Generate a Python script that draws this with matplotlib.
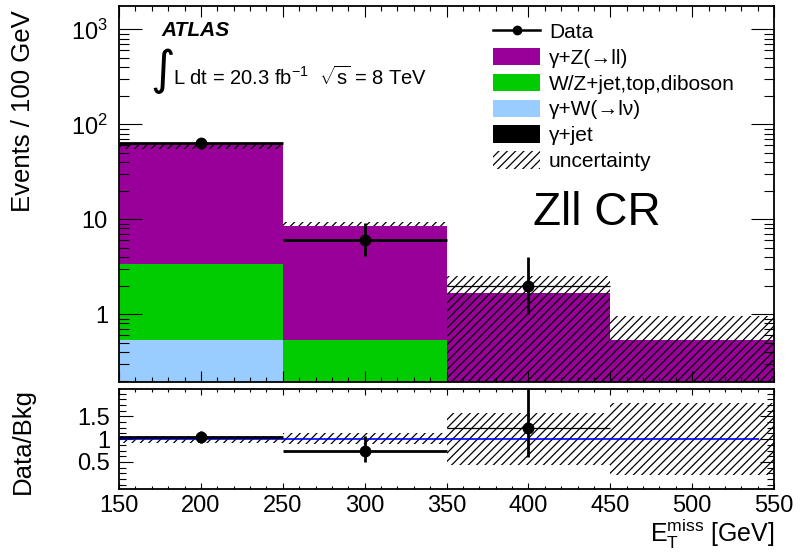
import matplotlib
matplotlib.use("Agg")
import matplotlib.pyplot as plt
import numpy as np
from matplotlib.lines import Line2D
from matplotlib.patches import Patch
from matplotlib.ticker import FixedLocator, FuncFormatter, LogLocator, MultipleLocator, NullFormatter

plt.rcParams["font.family"] = ["Liberation Sans", "DejaVu Sans"]
plt.rcParams["mathtext.fontset"] = "custom"
plt.rcParams["mathtext.rm"] = "Liberation Sans"
plt.rcParams["mathtext.it"] = "Liberation Sans:italic"
plt.rcParams["mathtext.bf"] = "Liberation Sans:bold"
plt.rcParams["mathtext.sf"] = "Liberation Sans"
plt.rcParams["hatch.linewidth"] = 0.9

# --- data (E_T^miss bins, GeV) ---
edges = [150, 250, 350, 450, 550]
gamma_jet = [0.05, 0.0, 0.0, 0.0]
gamma_w = [0.49, 0.10, 0.05, 0.0]
wz_top_diboson = [2.86, 0.44, 0.10, 0.05]
gamma_z = [60.1, 8.03, 1.51, 0.49]

band_lo = [55.0, 8.57, 0.10, 0.10]
band_hi = [64.0, 9.37, 2.53, 0.96]

data_x = [200, 300, 400]
data_y = [63, 6, 2]
data_err_lo = [7.9, 1.9, 1.0]
data_err_hi = [7.9, 3.1, 2.0]

ratio_y = [1.04, 0.73, 1.24]
ratio_err_lo = [0.13, 0.24, 0.64]
ratio_err_hi = [0.13, 0.33, 1.30]
ratio_band_lo = [0.92, 0.90, 0.435, 0.215]
ratio_band_hi = [1.06, 1.13, 1.57, 1.79]

samples = [
    ("γ+jet", gamma_jet, "#000000"),
    ("γ+W(→lν)", gamma_w, "#99ccff"),
    ("W/Z+jet,top,diboson", wz_top_diboson, "#00cc00"),
    ("γ+Z(→ll)", gamma_z, "#990099"),
]

W, H = 800, 557
fig = plt.figure(figsize=(W / 100, H / 100), dpi=100)
ax = fig.add_axes([119 / W, 1 - 381.7 / H, 655 / W, 375.7 / H])
rax = fig.add_axes([119 / W, 1 - 489.3 / H, 655 / W, 100.3 / H], sharex=ax)

# stacked histogram
bottom = np.zeros(len(edges) - 1)
for label, vals, color in samples:
    top = bottom + np.array(vals)
    ax.stairs(top, edges, baseline=bottom, fill=True, color=color, linewidth=0)
    bottom = top

ax.stairs(band_hi, edges, baseline=band_lo, fill=True, facecolor="none",
          edgecolor="black", hatch="////", linewidth=0)

# data
bar_widths = [2.0, 2.0, 0.9]
ax.hlines(data_y, edges[:3], edges[1:4], colors="black", linewidths=bar_widths, zorder=4)
ax.errorbar(data_x, data_y, yerr=[data_err_lo, data_err_hi], fmt="o", color="black",
            ms=7.5, elinewidth=2.0, capsize=0, zorder=5)

ax.set_yscale("log")
ax.set_xlim(150, 550)
ax.set_ylim(0.195, 1760)
ax.yaxis.set_major_locator(FixedLocator([1, 10, 100, 1000]))
labels = {1: "1", 10: "10", 100: r"$10^{2}$", 1000: r"$10^{3}$"}
ax.yaxis.set_major_formatter(FuncFormatter(lambda v, p: labels.get(int(round(v)), "")))
ax.yaxis.set_minor_locator(LogLocator(base=10, subs=np.arange(2, 10)))
ax.yaxis.set_minor_formatter(NullFormatter())
ax.xaxis.set_major_locator(MultipleLocator(50))
ax.xaxis.set_minor_locator(MultipleLocator(10))
ax.tick_params(axis="x", labelbottom=False)
ax.tick_params(which="both", direction="in", top=True, right=True, width=0.8)
ax.tick_params(axis="y", which="major", length=16.3, labelsize=17, pad=8)
ax.tick_params(axis="y", which="minor", length=7.4)
ax.tick_params(axis="x", which="major", length=7.7)
ax.tick_params(axis="x", which="minor", length=3.6)
for s in ax.spines.values():
    s.set_linewidth(1.3)

# legend
handles = [
    Line2D([], [], color="black", marker="o", ms=6, lw=1.8),
    Patch(facecolor="#990099", edgecolor="none"),
    Patch(facecolor="#00cc00", edgecolor="none"),
    Patch(facecolor="#99ccff", edgecolor="none"),
    Patch(facecolor="#000000", edgecolor="none"),
    Patch(facecolor="none", edgecolor="black", hatch="////", linewidth=0),
]
names = ["Data", "γ+Z(→ll)", "W/Z+jet,top,diboson", "γ+W(→lν)", "γ+jet", "uncertainty"]
ax.legend(handles, names, loc="upper left", bbox_to_anchor=(493 / W, 1 - 22 / H),
          bbox_transform=fig.transFigure, frameon=False, fontsize=15, borderpad=0,
          borderaxespad=0, handlelength=2.26, handleheight=0.9, handletextpad=0.43,
          labelspacing=0.29)

# ratio panel
rax.stairs(ratio_band_hi, edges, baseline=ratio_band_lo, fill=True, facecolor="none",
           edgecolor="black", hatch="////", linewidth=0)
rax.hlines(1.0, 150, 541, colors="#0000ff", linewidth=1.2)
rax.hlines(ratio_y, edges[:3], edges[1:4], colors="black", linewidths=bar_widths, zorder=4)
rax.errorbar(data_x, ratio_y, yerr=[ratio_err_lo, ratio_err_hi], fmt="o", color="black",
             ms=7.5, elinewidth=2.0, capsize=0, zorder=5)
rax.set_ylim(-0.1, 2.1)
rax.yaxis.set_major_locator(FixedLocator([0.5, 1.0, 1.5]))
rax.yaxis.set_major_formatter(FuncFormatter(lambda v, p: f"{v:g}"))
rax.yaxis.set_minor_locator(MultipleLocator(0.125))
rax.tick_params(which="both", direction="in", top=True, right=True, width=0.8)
rax.tick_params(axis="y", which="major", length=10, labelsize=17, pad=6.5)
rax.tick_params(axis="y", which="minor", length=4.8)
rax.tick_params(axis="x", which="major", length=4.3, labelsize=17, pad=4)
rax.tick_params(axis="x", which="minor", length=2.2)
for s in rax.spines.values():
    s.set_linewidth(1.3)

# texts
fig.text(161 / W, 1 - 36 / H, "ATLAS", fontsize=15, fontweight="bold", fontstyle="italic",
         va="baseline")
fig.text(150 / W, 1 - 71 / H, "∫", fontsize=34, va="center", ha="left",
         family=["DejaVu Sans"])
fig.text(173 / W, 1 - 85 / H, r"L dt = 20.3 fb$^{\mathrm{-1}}$  $\sqrt{\mathrm{s}}$ = 8 TeV",
         fontsize=14.5, va="baseline")
fig.text(533 / W, 1 - 225 / H, "Zll CR", fontsize=33, va="baseline")
fig.text(23 / W, 1 - 111 / H, "Events / 100 GeV", fontsize=18.5, rotation=90,
         ha="center", va="center")
fig.text(23 / W, 1 - 441 / H, "Data/Bkg", fontsize=18.5, rotation=90, ha="center", va="center")
fig.text(775 / W, 1 - 542 / H, r"E$_{\mathrm{T}}^{\mathrm{miss}}$ [GeV]", fontsize=18,
         ha="right", va="baseline")

fig.savefig("out.png", dpi=100)
